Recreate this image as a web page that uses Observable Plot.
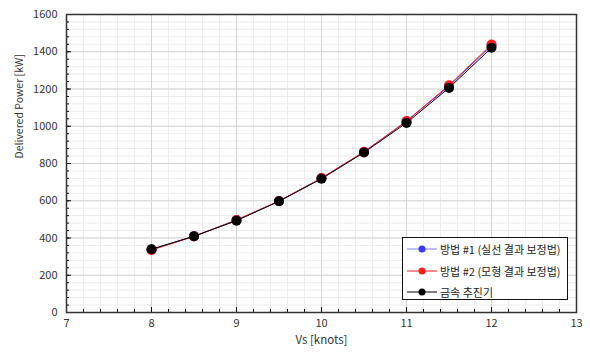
<!DOCTYPE html>
<html>
<head>
<meta charset="utf-8">
<script src="https://cdn.jsdelivr.net/npm/d3@7"></script>
<script src="https://cdn.jsdelivr.net/npm/@observablehq/plot@0.6"></script>
<style>
  html, body { margin: 0; padding: 0; background: #fff; }
  #chart { position: relative; width: 590px; height: 354px; font-family: "Noto Sans CJK KR", "Noto Sans", sans-serif; }
  #legend { position: absolute; left: 402px; top: 237px; width: 166px; height: 63px; border: 1.5px solid #111; background: #fff; box-sizing: border-box; font-size: 11px; color: #222; }
  .row { position: absolute; left: 4px; height: 16px; display: flex; align-items: center; white-space: nowrap; }
  .row svg { margin-right: 3px; }
</style>
</head>
<body>
<div id="chart"></div>
<script>
// Ship speed (knots) and delivered power (kW) for the three estimates
const speeds = [8, 8.5, 9, 9.5, 10, 10.5, 11, 11.5, 12];
const method1 = [337, 409, 496, 598, 721, 862, 1026, 1215, 1434];
const method2 = [336, 408, 497, 598, 722, 863, 1028, 1220, 1439];
const metalProp = [340, 410, 493, 597, 718, 859, 1018, 1206, 1421];

const seriesNames = ["방법 #1 (실선 결과 보정법)", "방법 #2 (모형 결과 보정법)", "금속 추진기"];
const seriesColors = ["#3a3aff", "#ff1a1a", "#000000"];

const xTicks = [7, 8, 9, 10, 11, 12, 13];
const yTicks = [0, 200, 400, 600, 800, 1000, 1200, 1400, 1600];
const xMinor = d3.range(70, 131, 2).map(v => v / 10);
const yMinor = d3.range(0, 1601, 40);

const rows = [method1, method2, metalProp].flatMap((vals, i) =>
  vals.map((p, j) => ({series: seriesNames[i], speed: speeds[j], power: p})));

const W = 590, H = 354, mL = 66, mR = 14, mT = 14, mB = 42;
const innerW = W - mL - mR, innerH = H - mT - mB;

const plot = Plot.plot({
  width: W, height: H,
  marginLeft: mL, marginRight: mR, marginTop: mT, marginBottom: mB,
  style: {fontFamily: '"Noto Sans CJK KR", "Noto Sans", sans-serif', fontSize: "11px", color: "#333", background: "#fff"},
  x: {domain: [7, 13]},
  y: {domain: [0, 1600]},
  marks: [
    Plot.gridX(xMinor, {stroke: "#ececec", strokeOpacity: 1, strokeWidth: 1}),
    Plot.gridY(yMinor, {stroke: "#ececec", strokeOpacity: 1, strokeWidth: 1}),
    Plot.gridX(xTicks, {stroke: "#d4d4d4", strokeOpacity: 1, strokeWidth: 1}),
    Plot.gridY(yTicks, {stroke: "#d4d4d4", strokeOpacity: 1, strokeWidth: 1}),
    // inward minor and major tick marks on the left and bottom axes
    Plot.tickX(xMinor, {x: d => d, insetTop: innerH - 3, stroke: "#000"}),
    Plot.tickX(xTicks, {x: d => d, insetTop: innerH - 5, stroke: "#000"}),
    Plot.tickY(yMinor, {y: d => d, insetRight: innerW - 3, stroke: "#000"}),
    Plot.tickY(yTicks, {y: d => d, insetRight: innerW - 5, stroke: "#000"}),
    Plot.axisX({ticks: xTicks, tickFormat: d => String(d), tickSize: 0, tickPadding: 7, label: null, fill: "#333"}),
    Plot.axisY({ticks: yTicks, tickFormat: d => String(d), tickSize: 0, tickPadding: 9, label: null, fill: "#333"}),
    Plot.frame({stroke: "#333", strokeWidth: 1.5}),
    Plot.line(rows, {x: "speed", y: "power", z: "series", stroke: "series", strokeWidth: 1}),
    Plot.dot(rows, {x: "speed", y: "power", fill: "series", r: 5}),
    Plot.text(["Delivered Power [kW]"], {text: d => d, frameAnchor: "left", rotate: -90, dx: -47, dy: -5, fill: "#333", fontSize: 10.5}),
    Plot.text(["Vs [knots]"], {text: d => d, frameAnchor: "bottom", dy: 31, fill: "#333", fontSize: 11.5})
  ],
  color: {domain: seriesNames, range: seriesColors}
});

const chart = document.getElementById("chart");
chart.appendChild(plot);

// legend box in the lower right of the plot area
const legend = document.createElement("div");
legend.id = "legend";
seriesNames.forEach((name, i) => {
  const row = document.createElement("div");
  row.className = "row";
  row.style.top = (3 + i * 21.5) + "px";
  const lineColor = i === 0 ? "#7a7aff" : seriesColors[i];
  row.innerHTML = `<svg width="30" height="10"><line x1="0" y1="5" x2="30" y2="5" stroke="${lineColor}" stroke-width="1"/><circle cx="15" cy="5" r="3.5" fill="${seriesColors[i]}"/></svg><span>${name}</span>`;
  legend.appendChild(row);
});
chart.appendChild(legend);
</script>
</body>
</html>
